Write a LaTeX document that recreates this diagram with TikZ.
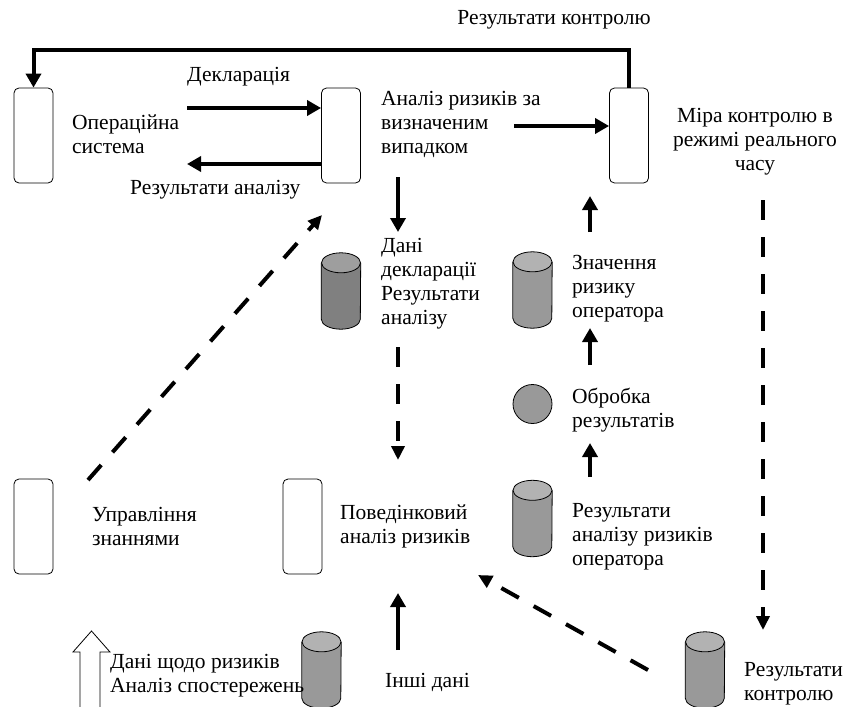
\documentclass[tikz,border=0pt]{standalone}
\usepackage{fontspec}
\setmainfont{Liberation Serif}
\usetikzlibrary{calc,arrows.meta}

\definecolor{dbdunkel}{gray}{0.50}
\definecolor{dbdeckeld}{gray}{0.62}
\definecolor{dbhell}{gray}{0.60}
\definecolor{dbdeckel}{gray}{0.70}

% Zylinder um einen leeren Knoten: #1 Knoten, #2 Mantel, #3 Deckel
\newcommand{\zylinder}[3]{%
    \fill[#2] ($(#1.north west)+(0,10)$) rectangle ($(#1.south east)+(0,-10)$);
    \fill[#2] ($(#1.south)+(0,-10)$) ellipse[x radius=19.5, y radius=10];
    \draw[line width=0.8pt] ($(#1.north west)+(0,10)$) -- ($(#1.south west)+(0,-10)$)
        arc[start angle=180, end angle=0, x radius=19.5, y radius=10]
        -- ($(#1.north east)+(0,10)$);
    \draw[line width=0.8pt, fill=#3] ($(#1.north)+(0,10)$) ellipse[x radius=19.5, y radius=10];
}

\begin{document}
\begin{tikzpicture}[x=1pt,y=-1pt,
        font=\fontsize{21.5}{24}\selectfont,
        blk/.style={draw, line width=0.8pt, rounded corners=5pt,
            minimum width=39pt, minimum height=95pt, inner sep=0pt},
        db/.style={minimum width=39pt, minimum height=76pt, inner sep=0pt},
        txt/.style={anchor=west, align=left, inner sep=0pt},
        pfeil/.style={line width=4pt, -{Triangle[length=14pt,width=15pt]}},
        strich/.style={line width=4pt, dash pattern=on 20pt off 17pt,
            -{Triangle[length=14pt,width=13pt]}}
        ]
            \useasboundingbox (0,0) rectangle (845,706);
            \clip (0,0) rectangle (845,706);

            % Bloecke
            \node[blk] (sys)   at (33.5,135.5) {};
            \node[blk] (risk)  at (341,135.5) {};
            \node[blk] (kontr) at (629,135.5) {};
            \node[blk] (upr)   at (33.5,526.5) {};
            \node[blk] (pov)   at (302.5,526.5) {};

            % Datenbanken
            \node[db] (dbdekl)  at (341,291) {};
            \node[db] (dbznach) at (532.5,290) {};
            \node[db] (dbrez)   at (532.5,518.5) {};
            \node[db] (dbinshi) at (321.5,670) {};
            \node[db] (dbkontr) at (705,670) {};
            \zylinder{dbdekl}{dbdunkel}{dbdeckeld}
            \zylinder{dbznach}{dbhell}{dbdeckel}
            \zylinder{dbrez}{dbhell}{dbdeckel}
            \zylinder{dbinshi}{dbhell}{dbdeckel}
            \zylinder{dbkontr}{dbhell}{dbdeckel}
            \node[circle, draw, line width=0.8pt, fill=dbhell,
                  minimum size=39pt, inner sep=0pt] (obr) at (532.5,404) {};

            % Texte
            \node at (554,20) {Результати контролю};
            \node[txt] (tdekl) at (187,77) {Декларація};
            \node[txt] at (72,134) {Операційна\\система};
            \node[txt] (tres) at (130,190) {Результати аналізу};
            \node[txt] at (381,124) {Аналіз ризиків за\\визначеним\\випадком};
            \node[align=center, inner sep=0pt] at (755,142) {Міра контролю в\\режимі реального\\часу};
            \node[txt] at (381,284) {Дані\\декларації\\Результати\\аналізу};
            \node[txt] at (572,289) {Значення\\ризику\\оператора};
            \node[txt] at (572,410) {Обробка\\результатів};
            \node[txt] at (92,526) {Управління\\знаннями};
            \node[txt] at (340,526) {Поведінковий\\аналіз ризиків};
            \node[txt] at (572,537) {Результати\\аналізу ризиків\\оператора};
            \node[txt] at (110,676) {Дані щодо ризиків\\Аналіз спостережень};
            \node[txt] at (385,682) {Інші дані};
            \node[txt] at (744,684) {Результати\\контролю};

            % freie Enden
            \coordinate (a1) at (187,108);
            \coordinate (a2) at (187,164);
            \coordinate (a3) at (514,126);
            \coordinate (d1) at (398,177);
            \coordinate (d2) at (398,232);
            \coordinate (d3) at (398,347);
            \coordinate (d4) at (398,460);
            \coordinate (w1) at (88,480);
            \coordinate (w2) at (322,215);
            \coordinate (z1) at (590,232);
            \coordinate (z2) at (590,196);
            \coordinate (z3) at (590,365);
            \coordinate (z4) at (590,328);
            \coordinate (z5) at (590,477);
            \coordinate (z6) at (590,443);
            \coordinate (k1) at (763,200);
            \coordinate (k2) at (763,630);
            \coordinate (k3) at (648,670);
            \coordinate (k4) at (478,575);
            \coordinate (i1) at (398,650);
            \coordinate (i2) at (398,593);

            % Verbindungen
            \draw[pfeil] (kontr.north) -- ++(0,-38) -| (sys.north);
            \draw[pfeil] (a1) -- (a1 -| risk.west);
            \draw[pfeil] (a2 -| risk.west) -- (a2);
            \draw[pfeil] (a3) -- (a3 -| kontr.west);
            \draw[pfeil] (d1) -- (d2);
            \draw[strich] (d3) -- (d4);
            \draw[strich] (w1) -- (w2);
            \draw[pfeil] (z1) -- (z2);
            \draw[pfeil] (z3) -- (z4);
            \draw[pfeil] (z5) -- (z6);
            \draw[strich] (k1) -- (k2);
            \draw[strich] (k3) -- (k4);
            \draw[pfeil] (i1) -- (i2);

            % Hohlpfeil
            \draw[line width=0.8pt, fill=white]
                (80,720) -- (80,652) -- (73,652) -- (91.5,631)
                -- (110,652) -- (100,652) -- (100,720);

        \end{tikzpicture}
\end{document}
